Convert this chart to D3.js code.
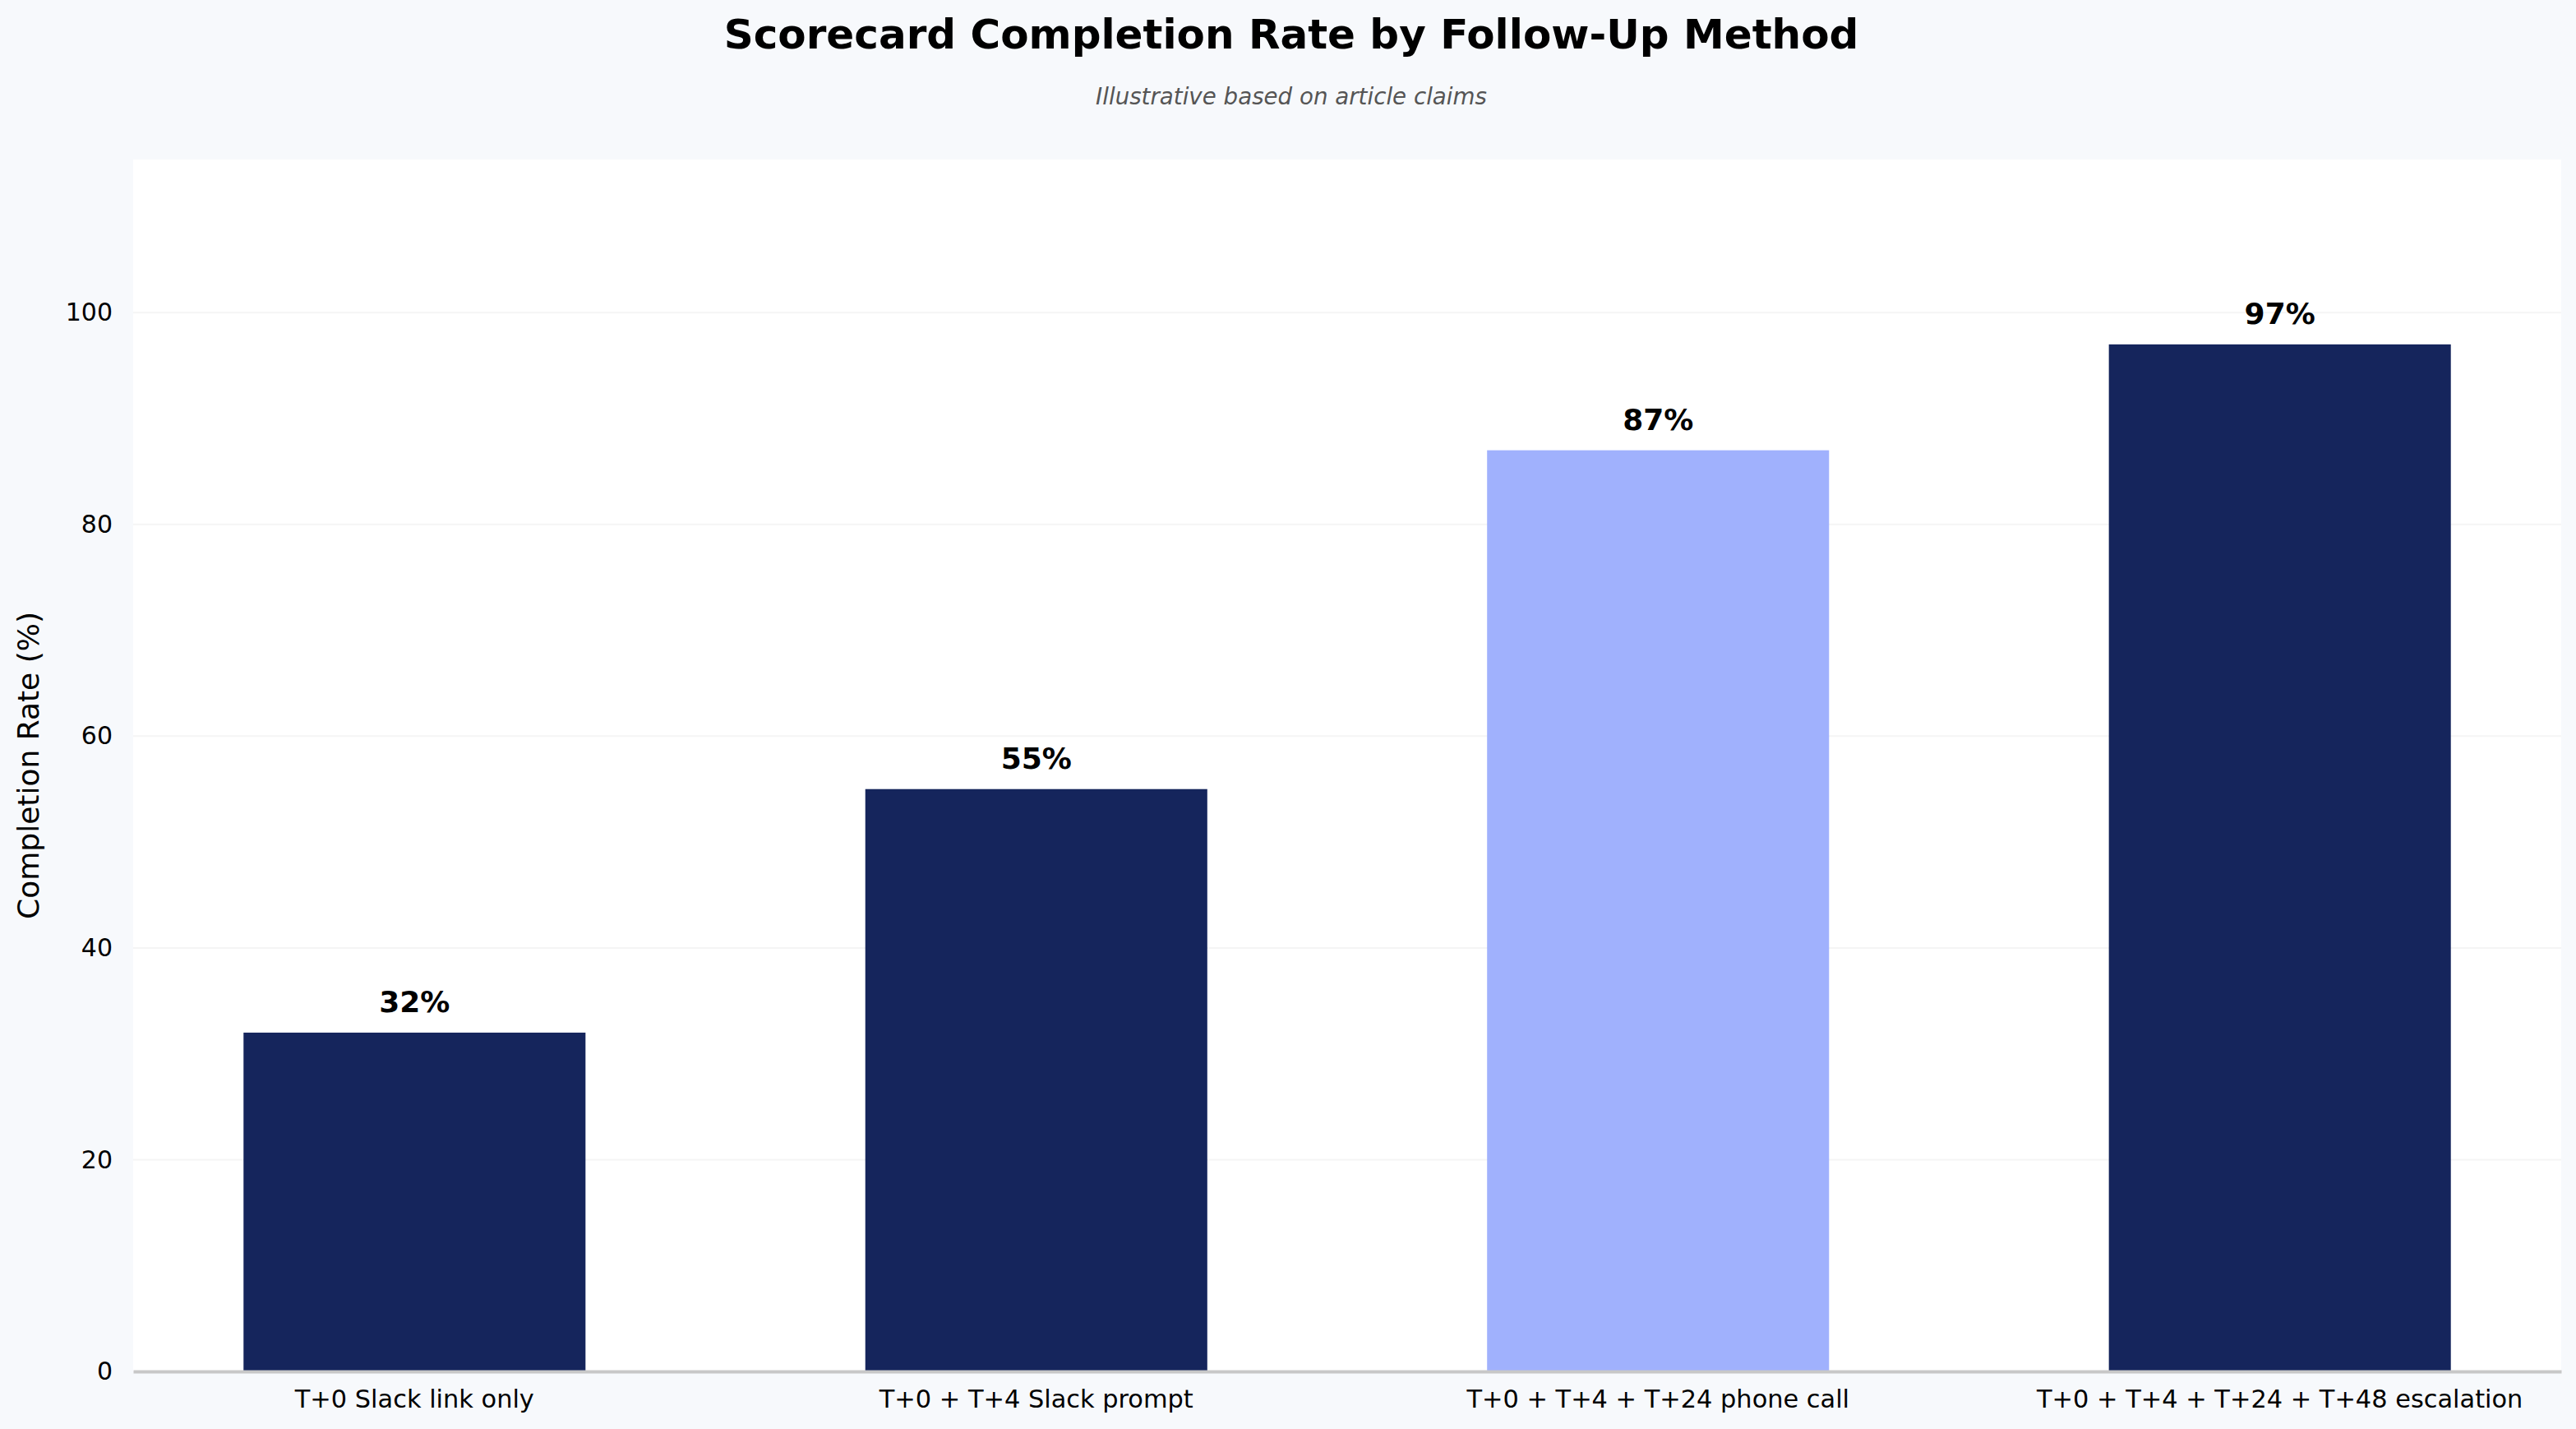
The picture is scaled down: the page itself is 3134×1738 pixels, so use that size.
<!DOCTYPE html>
<html lang="en">
<head>
    <meta charset="UTF-8">
    <title>Scorecard Completion Rate by Follow-Up Method</title>
    <script src="https://d3js.org/d3.v7.min.js"></script>
    <style>
        html, body {
            margin: 0;
            padding: 0;
            background: #f7f9fc;
        }

        svg {
            display: block;
            font-family: "DejaVu Sans", sans-serif;
        }

        .title {
            font-size: 50px;
            font-weight: bold;
        }

        .subtitle {
            font-size: 27.7px;
            font-style: italic;
            fill: #555555;
        }

        .axis-label {
            font-size: 36px;
        }

        .value-label {
            font-size: 36px;
            font-weight: bold;
        }
    </style>
</head>
<body>
    <div id="chart"></div>

    <script>
        // data
        const categories = [
            "T+0 Slack link only",
            "T+0 + T+4 Slack prompt",
            "T+0 + T+4 + T+24 phone call",
            "T+0 + T+4 + T+24 + T+48 escalation"
        ];
        const completionRates = [32, 55, 87, 97];
        const highlighted = [false, false, true, false];
        const yTicks = [0, 20, 40, 60, 80, 100];

        const W = 3134, H = 1738;
        const margin = { top: 194, right: 18, bottom: 70, left: 162 };
        const width = W - margin.left - margin.right;
        const height = H - margin.top - margin.bottom;

        const svg = d3.select("#chart").append("svg")
            .attr("width", W)
            .attr("height", H);

        svg.append("rect")
            .attr("width", W)
            .attr("height", H)
            .attr("fill", "#f7f9fc");

        svg.append("text")
            .attr("class", "title")
            .attr("x", W / 2 + 4)
            .attr("y", 59)
            .attr("text-anchor", "middle")
            .text("Scorecard Completion Rate by Follow-Up Method");

        svg.append("text")
            .attr("class", "subtitle")
            .attr("x", W / 2 + 4)
            .attr("y", 127)
            .attr("text-anchor", "middle")
            .text("Illustrative based on article claims");

        const g = svg.append("g")
            .attr("transform", `translate(${margin.left}, ${margin.top})`);

        g.append("rect")
            .attr("width", width)
            .attr("height", height)
            .attr("fill", "#ffffff");

        const x = d3.scaleBand()
            .domain(categories)
            .range([0, width])
            .paddingInner(0.45)
            .paddingOuter(0.1775);

        const y = d3.scaleLinear()
            .domain([0, d3.max(completionRates) * 1.18])
            .range([height, 0]);

        // grid
        g.append("g")
            .selectAll("line")
            .data(yTicks.slice(1))
            .enter()
            .append("line")
            .attr("x1", 0)
            .attr("x2", width)
            .attr("y1", d => y(d))
            .attr("y2", d => y(d))
            .attr("stroke", "#f5f5f5")
            .attr("stroke-width", 2);

        // y axis
        const yAxis = g.append("g")
            .call(d3.axisLeft(y).tickValues(yTicks).tickSize(0).tickPadding(25));
        yAxis.select(".domain").remove();
        yAxis.selectAll("text")
            .attr("font-size", 30)
            .attr("font-family", "DejaVu Sans")
            .attr("fill", "#000");

        // bars
        g.selectAll(".bar")
            .data(completionRates)
            .enter()
            .append("rect")
            .attr("class", "bar")
            .attr("x", (d, i) => x(categories[i]))
            .attr("width", x.bandwidth())
            .attr("y", d => y(d))
            .attr("height", d => height - y(d))
            .attr("fill", (d, i) => highlighted[i] ? "#a0b1fd" : "#15255c");

        g.selectAll(".value-label")
            .data(completionRates)
            .enter()
            .append("text")
            .attr("class", "value-label")
            .attr("x", (d, i) => x(categories[i]) + x.bandwidth() / 2)
            .attr("y", d => y(d) - 25)
            .attr("text-anchor", "middle")
            .text(d => d + "%");

        // x axis
        const xAxis = g.append("g")
            .attr("transform", `translate(0, ${height})`)
            .call(d3.axisBottom(x).tickSize(0).tickPadding(22));
        xAxis.select(".domain")
            .attr("stroke", "#c8c8c8")
            .attr("stroke-width", 4);
        xAxis.selectAll("text")
            .attr("font-size", 30.4)
            .attr("font-family", "DejaVu Sans")
            .attr("fill", "#000");

        svg.append("text")
            .attr("class", "axis-label")
            .attr("text-anchor", "middle")
            .attr("transform", `translate(47, ${margin.top + height / 2}) rotate(-90)`)
            .text("Completion Rate (%)");
    </script>
</body>
</html>
